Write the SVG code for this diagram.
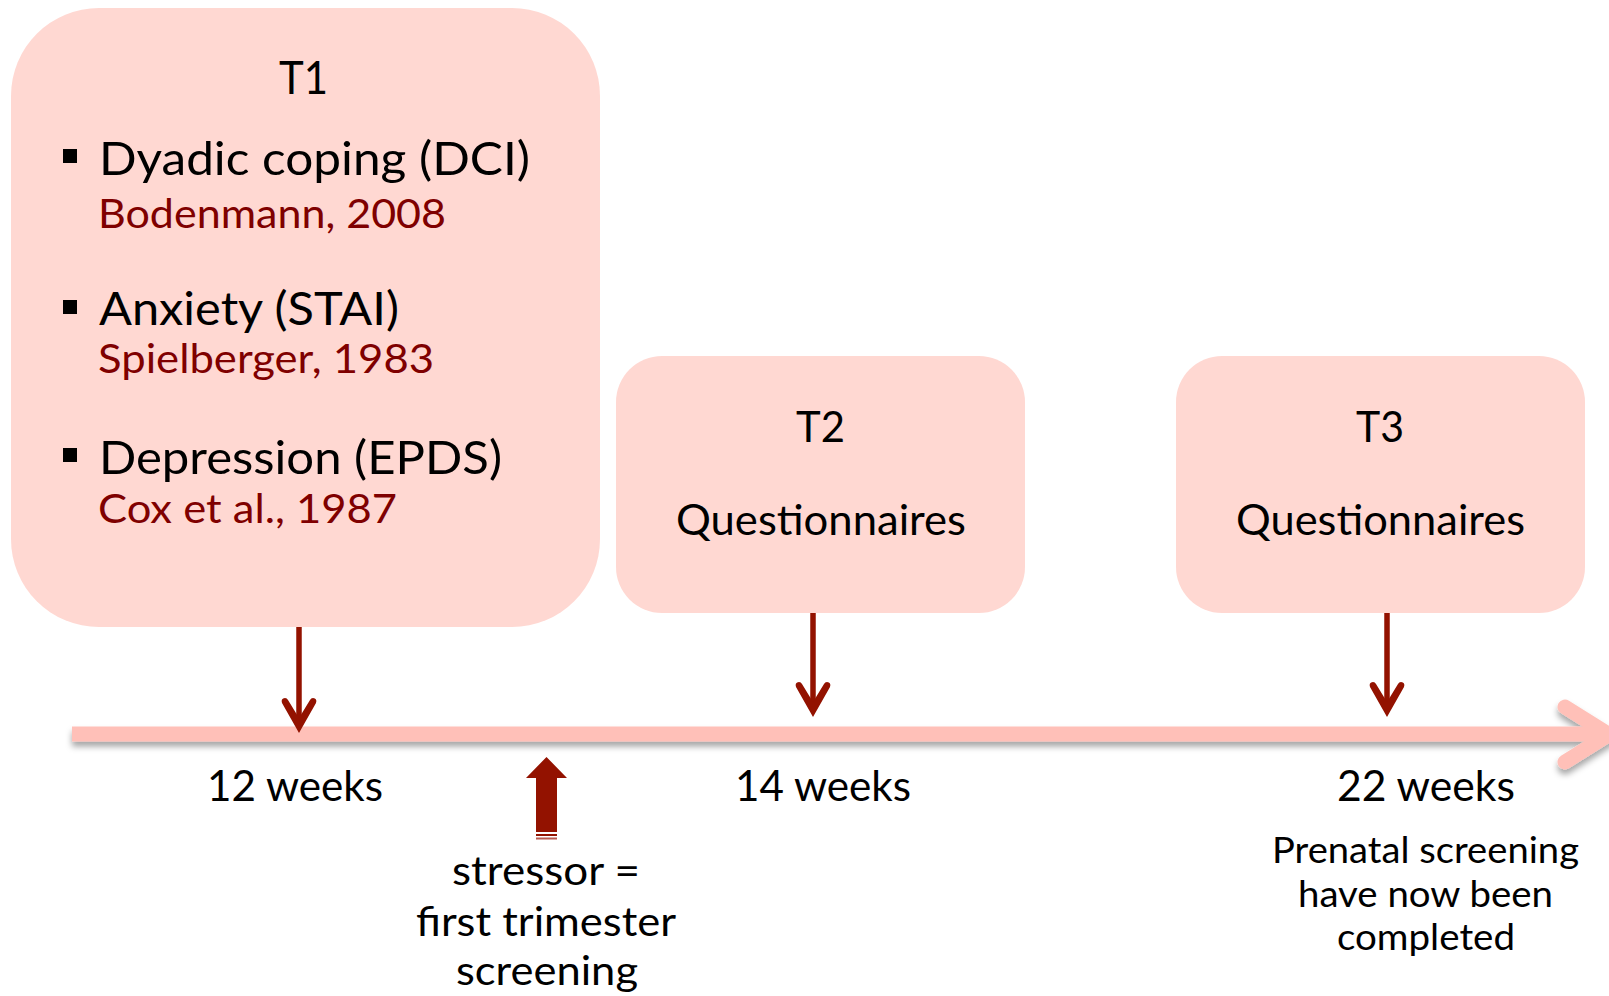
<svg xmlns="http://www.w3.org/2000/svg" width="1609" height="996" viewBox="0 0 1609 996">
<defs>
<style>
text{font-family:Lato,"Open Sans","Liberation Sans",sans-serif;fill:#000}
.cite{fill:#7f0000}
.box{fill:#ffd8d2}
.bul{fill:#000}
.dark{fill:#931200}
.shaft{stroke:#931200;stroke-width:5.5;fill:none}
.tl{stroke:#ffc0b8;stroke-width:15;fill:none}
</style>
<filter id="sh" x="-5%" y="-50%" width="110%" height="250%">
<feDropShadow dx="0" dy="5" stdDeviation="3" flood-color="#000" flood-opacity="0.35"/>
</filter>
<path id="head" d="M0,0 L-17,-30 Q-18.5,-34.5 -14,-35 Q-12,-35 -11,-33 L0,-15 L11,-33 Q12,-35 14,-35 Q18.5,-34.5 17,-30 Z"/>
</defs>

<g id="timeline" filter="url(#sh)">
<path class="tl" d="M72,734 L1605,734" stroke-linecap="butt"/>
<path class="tl" d="M1565,707 L1609,734.5 L1565,762" stroke-linecap="round" stroke-linejoin="round"/>
</g>

<g id="t1">
<rect class="box" x="11" y="8" width="589" height="619" rx="88" ry="88"/>
<text x="279" y="94" font-size="47" textLength="49" lengthAdjust="spacingAndGlyphs">T1</text>
<rect class="bul" x="63" y="149" width="14" height="14"/>
<text x="99" y="175" font-size="47" textLength="431" lengthAdjust="spacingAndGlyphs">Dyadic coping (DCI)</text>
<text class="cite" x="98" y="228" font-size="41" textLength="348" lengthAdjust="spacingAndGlyphs">Bodenmann, 2008</text>
<rect class="bul" x="63" y="300" width="14" height="14"/>
<text x="99" y="325" font-size="47" textLength="300" lengthAdjust="spacingAndGlyphs">Anxiety (STAI)</text>
<text class="cite" x="98" y="373" font-size="41" textLength="336" lengthAdjust="spacingAndGlyphs">Spielberger, 1983</text>
<rect class="bul" x="63" y="448" width="14" height="14"/>
<text x="99" y="474" font-size="47" textLength="403" lengthAdjust="spacingAndGlyphs">Depression (EPDS)</text>
<text class="cite" x="98" y="523" font-size="41" textLength="299" lengthAdjust="spacingAndGlyphs">Cox et al., 1987</text>
</g>

<g id="t2">
<rect class="box" x="616" y="356" width="409" height="257" rx="46" ry="46"/>
<text x="796" y="442" font-size="42" textLength="49" lengthAdjust="spacingAndGlyphs">T2</text>
<text x="676" y="535" font-size="42" textLength="290" lengthAdjust="spacingAndGlyphs">Questionnaires</text>
</g>

<g id="t3">
<rect class="box" x="1176" y="356" width="409" height="257" rx="46" ry="46"/>
<text x="1356" y="442" font-size="42" textLength="48" lengthAdjust="spacingAndGlyphs">T3</text>
<text x="1236" y="535" font-size="42" textLength="289" lengthAdjust="spacingAndGlyphs">Questionnaires</text>
</g>

<g id="connectors">
<line class="shaft" x1="299" y1="627" x2="299" y2="720"/>
<use href="#head" class="dark" x="299" y="733"/>
<line class="shaft" x1="813" y1="613" x2="813" y2="704"/>
<use href="#head" class="dark" x="813" y="717"/>
<line class="shaft" x1="1387" y1="613" x2="1387" y2="704"/>
<use href="#head" class="dark" x="1387" y="717"/>
</g>

<g id="stressor">
<path class="dark" d="M546.5,757 L567,778 L557,778 L557,832 L536,832 L536,778 L526,778 Z"/>
<rect class="dark" x="536" y="834" width="21" height="2"/>
<rect x="536" y="837.5" width="21" height="2" fill="#b85a50"/>
<text x="452" y="885" font-size="41" textLength="188" lengthAdjust="spacingAndGlyphs">stressor =</text>
<text x="416" y="936" font-size="41" textLength="260" lengthAdjust="spacingAndGlyphs">first trimester</text>
<text x="456" y="985" font-size="41" textLength="182" lengthAdjust="spacingAndGlyphs">screening</text>
</g>

<g id="labels">
<text x="207" y="801" font-size="42" textLength="176" lengthAdjust="spacingAndGlyphs">12 weeks</text>
<text x="735" y="801" font-size="42" textLength="176" lengthAdjust="spacingAndGlyphs">14 weeks</text>
<text x="1337" y="801" font-size="42" textLength="178" lengthAdjust="spacingAndGlyphs">22 weeks</text>
<text x="1272" y="863" font-size="36" textLength="307" lengthAdjust="spacingAndGlyphs">Prenatal screening</text>
<text x="1298" y="907" font-size="36" textLength="255" lengthAdjust="spacingAndGlyphs">have now been</text>
<text x="1337" y="950" font-size="36" textLength="178" lengthAdjust="spacingAndGlyphs">completed</text>
</g>
</svg>
